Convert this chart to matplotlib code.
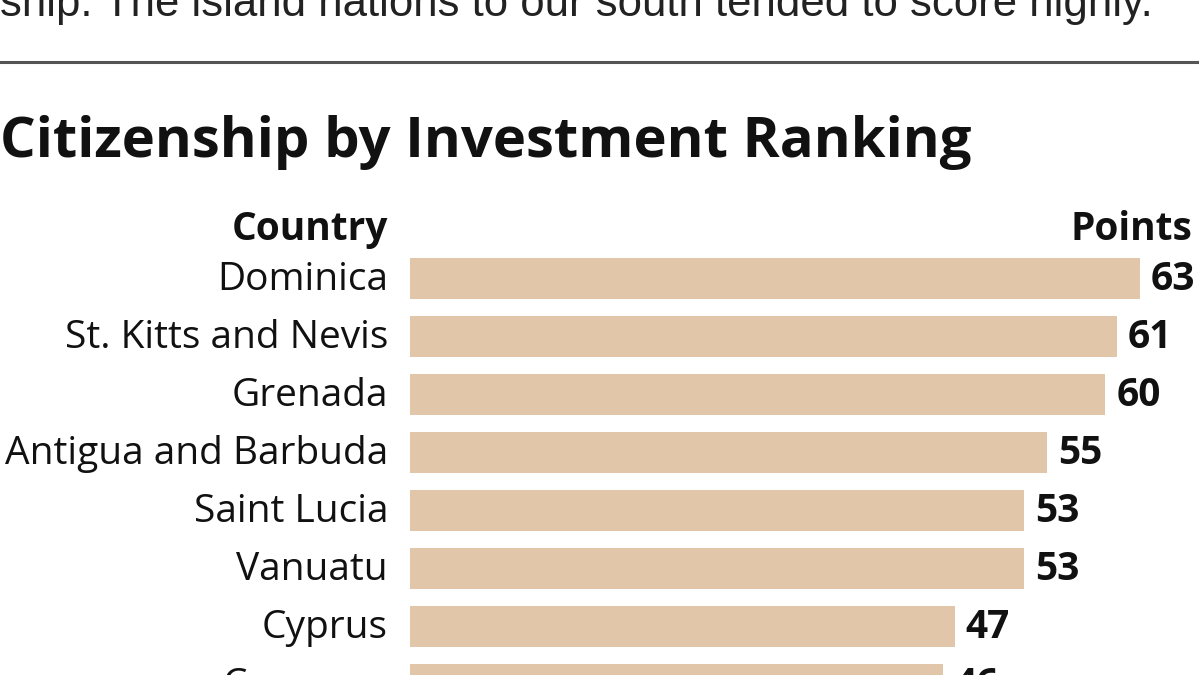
import matplotlib
matplotlib.use("Agg")
import matplotlib.pyplot as plt
from matplotlib.lines import Line2D

countries = ["Dominica", "St. Kitts and Nevis", "Grenada", "Antigua and Barbuda",
             "Saint Lucia", "Vanuatu", "Cyprus", "Comoros"]
points = [63, 61, 60, 55, 53, 53, 47, 46]

intro = "ship. The island nations to our south tended to score highly."
title = "Citizenship by Investment Ranking"

bar_color = "#e2c6a9"
sans = ["Open Sans", "DejaVu Sans"]

W, H = 1200, 675
fig = plt.figure(figsize=(12, 6.75), dpi=100)
fig.patch.set_facecolor("white")

# leftover text from the article above the chart (cut off at the top)
fig.text(0, 1 - 16 / H, intro, fontsize=31.5, color="#222222", va="baseline", ha="left",
         family=["Liberation Sans", "DejaVu Sans"])
fig.add_artist(Line2D([0, 1197 / W], [1 - 62 / H, 1 - 62 / H], color="#555555",
                      linewidth=2.2, transform=fig.transFigure))

fig.text(0, 1 - 157 / H, title, fontsize=40.5, fontweight="bold", color="#111111",
         va="baseline", ha="left", family=sans)

# axes placed so that 1 point = ~11.59 px and rows are 58 px apart
ax = fig.add_axes([410 / W, 0, 790 / W, 475 / H])
px_per_pt = 730 / 63
ax.set_xlim(0, 790 / px_per_pt)
ax.set_ylim(6.836, -1.353)
ax.axis("off")

ypos = list(range(len(countries)))
ax.barh(ypos, points, height=41 / 58, color=bar_color, left=0)

for y, c, v in zip(ypos, countries, points):
    ax.text(-22 / px_per_pt, y + 0.2, c, ha="right", va="baseline", fontsize=28,
            color="#111111", family=sans, clip_on=False)
    ax.text(v + 11 / px_per_pt, y + 0.2, str(v), ha="left", va="baseline", fontsize=28,
            fontweight="bold", color="#111111", family=sans, clip_on=False)

ax.text(-22 / px_per_pt, -0.664, "Country", ha="right", va="baseline", fontsize=28,
        fontweight="bold", color="#111111", family=sans, clip_on=False)
ax.text(782 / px_per_pt, -0.664, "Points", ha="right", va="baseline", fontsize=28,
        fontweight="bold", color="#111111", family=sans, clip_on=False)

fig.savefig("out.png", dpi=100)
